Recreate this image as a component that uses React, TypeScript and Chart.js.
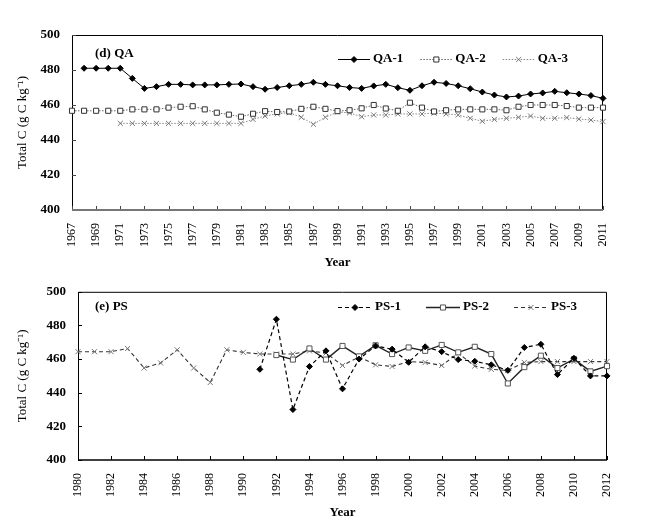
import React, { useEffect, useRef } from 'react';
import { Chart, registerables } from 'chart.js';

Chart.register(...registerables);

const FONT = "'Liberation Serif', 'Times New Roman', Times, serif";

// ---------- Panel (d) QA ----------
const QA_YEARS = [
  1967, 1968, 1969, 1970, 1971, 1972, 1973, 1974, 1975, 1976, 1977, 1978, 1979, 1980, 1981,
  1982, 1983, 1984, 1985, 1986, 1987, 1988, 1989, 1990, 1991, 1992, 1993, 1994, 1995, 1996,
  1997, 1998, 1999, 2000, 2001, 2002, 2003, 2004, 2005, 2006, 2007, 2008, 2009, 2010, 2011,
];
const QA1 = [
  null, 481, 481, 481, 481,
  475.2, 469.5, 470.5, 471.8, 471.8, 471.5, 471.5, 471.5, 471.8, 472,
  470.5, 469, 470, 471, 471.8, 473, 471.8, 471, 470, 469.5,
  470.9, 471.8, 469.9, 468.4, 471, 473, 472.3, 471, 469.3, 467.4,
  465.7, 464.6, 465.1, 466.3, 466.9, 467.8, 467, 466.3, 465.4, 463.8,
];
const QA2 = [
  456.7, 456.7, 456.7, 456.7, 456.7,
  457.5, 457.5, 457.5, 458.5, 459, 459.3, 457.5, 455.6, 454.5, 453.3,
  455, 456.5, 456, 456.3, 457.8, 459, 457.8, 456.5, 457, 458.1,
  460, 458, 456.7, 461.3, 458.5, 456.3, 457, 457.5, 457.5, 457.5,
  457.5, 457, 459, 460, 460, 460, 459.4, 458.5, 458.5, 458.5,
];
const QA3 = [
  null, null, null, null, 449.5,
  449.5, 449.5, 449.5, 449.5, 449.5, 449.5, 449.5, 449.5, 449.5, 449.5,
  451.8, 453.7, 455, 455.6, 453, 449, 453, 456, 455.5, 453.3,
  454.3, 454.3, 454.9, 454.9, 454.9, 455.4, 454.9, 454.3, 452.4, 450.7,
  451.8, 452.4, 453, 453.7, 452.4, 452.4, 452.8, 452, 451.4, 450.5,
];

// ---------- Panel (e) PS ----------
const PS_YEARS = [
  1980, 1981, 1982, 1983, 1984, 1985, 1986, 1987, 1988, 1989, 1990,
  1991, 1992, 1993, 1994, 1995, 1996, 1997, 1998, 1999, 2000, 2001,
  2002, 2003, 2004, 2005, 2006, 2007, 2008, 2009, 2010, 2011, 2012,
];
const PS1 = [
  null, null, null, null, null, null, null, null, null, null, null,
  453.9, 483.7, 430, 455.6, 464.9, 442.3, 460, 467.8, 465.9, 458.1, 467.3,
  464.4, 459.7, 458.7, 456.6, 453.3, 466.9, 468.8, 450.8, 460.5, 450, 450,
];
const PS2 = [
  null, null, null, null, null, null, null, null, null, null, null,
  null, 462.4, 459.7, 466.3, 459.7, 467.8, 461.6, 468.2, 463, 466.9, 464.9,
  468.4, 464, 467.3, 463, 445.5, 455.2, 462, 454.7, 460, 452.7, 455.8,
];
const PS3 = [
  464.4, 464.4, 464.4, 466.3, 454.7, 457.7, 465.5, 454.7, 446.1, 465.5, 464,
  463, 463, 463, 464.9, 463.6, 456.2, 461.3, 456.6, 455.6, 458.5, 458,
  456.2, 463.5, 455.8, 453.9, 453.3, 458, 458.5, 458.5, 458.5, 458.5, 458.5,
];

const Y_MIN = 400;
const Y_MAX = 500;
const Y_STEP = 20;
const Y_TITLE = 'Total C (g C kg⁻¹)';
const X_TITLE = 'Year';

function drawMarker(ctx: CanvasRenderingContext2D, style: string, x: number, y: number, r: number, fill: string, stroke: string, lw: number) {
  ctx.save();
  ctx.setLineDash([]);
  ctx.lineWidth = lw;
  ctx.strokeStyle = stroke;
  ctx.fillStyle = fill;
  ctx.beginPath();
  if (style === 'rectRot') {
    ctx.moveTo(x, y - r); ctx.lineTo(x + r, y); ctx.lineTo(x, y + r); ctx.lineTo(x - r, y); ctx.closePath();
    ctx.fill(); ctx.stroke();
  } else if (style === 'rect') {
    const s = r * Math.SQRT1_2;
    ctx.rect(x - s, y - s, 2 * s, 2 * s);
    ctx.fill(); ctx.stroke();
  } else if (style === 'crossRot') {
    const s = r * Math.SQRT1_2;
    ctx.moveTo(x - s, y - s); ctx.lineTo(x + s, y + s);
    ctx.moveTo(x + s, y - s); ctx.lineTo(x - s, y + s);
    ctx.stroke();
  }
  ctx.restore();
}

const framePlugin = {
  id: 'frame',
  beforeDatasetsDraw(chart: any, _args: any, o: any) {
    const { ctx, chartArea: a, scales } = chart;
    ctx.save();
    ctx.strokeStyle = '#000';
    ctx.lineWidth = 1;
    ctx.beginPath();
    ctx.moveTo(a.left + 0.5, a.bottom);
    ctx.lineTo(a.left + 0.5, a.top + 0.5);
    ctx.lineTo(a.right - 0.5, a.top + 0.5);
    ctx.lineTo(a.right - 0.5, a.bottom);
    ctx.stroke();
    ctx.lineWidth = 1;
    ctx.strokeStyle = o.tickColor;
    ctx.beginPath();
    scales.x.ticks.forEach((t: any) => {
      const px = Math.round(scales.x.getPixelForValue(t.value)) + 0.5;
      ctx.moveTo(px, a.bottom);
      ctx.lineTo(px, a.bottom - o.tickLen);
    });
    scales.y.ticks.forEach((t: any) => {
      const py = Math.round(scales.y.getPixelForValue(t.value)) + 0.5;
      ctx.moveTo(a.left, py);
      ctx.lineTo(a.left + o.tickLen, py);
    });
    ctx.stroke();
    ctx.strokeStyle = o.axisColor;
    ctx.lineWidth = o.axisWidth;
    ctx.beginPath();
    ctx.moveTo(a.left, a.bottom);
    ctx.lineTo(a.right, a.bottom);
    ctx.stroke();
    ctx.restore();
  },
};

const insidePlugin = {
  id: 'inside',
  afterDatasetsDraw(chart: any, _args: any, o: any) {
    const ctx: CanvasRenderingContext2D = chart.ctx;
    ctx.save();
    ctx.fillStyle = '#000';
    ctx.textBaseline = 'middle';
    ctx.textAlign = 'left';
    ctx.font = `bold 13px ${FONT}`;
    ctx.fillText(o.title, o.titleX, o.titleY);
    let x = o.legendX;
    chart.data.datasets.forEach((ds: any) => {
      ctx.save();
      ctx.strokeStyle = ds.borderColor;
      ctx.lineWidth = ds.borderWidth;
      ctx.setLineDash(ds.borderDash || []);
      ctx.beginPath();
      ctx.moveTo(x, o.legendY + 0.5);
      ctx.lineTo(x + o.lineLen, o.legendY + 0.5);
      ctx.stroke();
      ctx.restore();
      drawMarker(ctx, ds.pointStyle, x + o.lineLen / 2, o.legendY + 0.5, ds.pointRadius, ds.pointBackgroundColor, ds.pointBorderColor, ds.pointBorderWidth);
      const tx = x + o.lineLen + o.gap;
      ctx.fillStyle = '#000';
      ctx.fillText(ds.label, tx, o.legendY);
      x = tx + ctx.measureText(ds.label).width + o.itemGap;
    });
    ctx.restore();
  },
};

function pts(xs: number[], ys: (number | null)[]) {
  return xs.map((x, i) => ({ x, y: ys[i] }));
}

function buildConfig(p: any): any {
  return {
    type: 'line',
    data: { datasets: p.datasets },
    plugins: [framePlugin, insidePlugin],
    options: {
      responsive: false,
      animation: false,
      devicePixelRatio: 1,
      layout: { padding: p.padding },
      elements: { line: { tension: 0 } },
      plugins: {
        legend: { display: false },
        tooltip: { enabled: false },
        frame: p.frame,
        inside: p.inside,
      },
      scales: {
        x: {
          type: 'linear',
          min: p.xMin,
          max: p.xMax,
          afterFit: (s: any) => { s.height = 60; },
          grid: { display: false, drawTicks: false },
          border: { display: false },
          ticks: {
            stepSize: 2,
            autoSkip: false,
            minRotation: 90,
            maxRotation: 90,
            padding: 13,
            color: '#000',
            font: { family: FONT, size: 12 },
            callback: (v: any) => String(v),
          },
          title: {
            display: true,
            text: X_TITLE,
            color: '#000',
            font: { family: FONT, size: 13, weight: 'bold' },
            padding: 0,
          },
        },
        y: {
          min: Y_MIN,
          max: Y_MAX,
          afterFit: (s: any) => { s.width = p.yWidth; },
          grid: { display: false, drawTicks: false },
          border: { display: false },
          ticks: {
            stepSize: Y_STEP,
            padding: 12,
            color: '#000',
            font: { family: FONT, size: 13, weight: 'bold' },
          },
          title: {
            display: true,
            text: Y_TITLE,
            color: '#000',
            font: { family: FONT, size: 13 },
            padding: { top: 15, bottom: 0 },
          },
        },
      },
    },
  };
}

function series(label: string, xs: number[], ys: (number | null)[], s: any) {
  return {
    label,
    data: pts(xs, ys),
    clip: false,
    spanGaps: false,
    fill: false,
    pointHoverRadius: s.pointRadius,
    ...s,
  };
}

function qaConfig() {
  return buildConfig({
    xMin: 1967,
    xMax: 2011,
    yWidth: 72,
    padding: { left: 0, top: 35, right: 43, bottom: 2 },
    frame: { tickLen: 4, tickColor: '#444', axisColor: '#777', axisWidth: 2 },
    inside: { title: '(d) QA', titleX: 95, titleY: 54, legendX: 338, legendY: 59, lineLen: 32, gap: 3, itemGap: 17 },
    datasets: [
      series('QA-1', QA_YEARS, QA1, {
        borderColor: '#000', borderWidth: 1, borderDash: [],
        pointStyle: 'rectRot', pointRadius: 3, pointBackgroundColor: '#000', pointBorderColor: '#000', pointBorderWidth: 1,
      }),
      series('QA-2', QA_YEARS, QA2, {
        borderColor: '#666', borderWidth: 1, borderDash: [1.5, 1.5],
        pointStyle: 'rect', pointRadius: 3.6, pointBackgroundColor: '#fff', pointBorderColor: '#333', pointBorderWidth: 1,
      }),
      series('QA-3', QA_YEARS, QA3, {
        borderColor: '#888', borderWidth: 1, borderDash: [1.5, 1.5],
        pointStyle: 'crossRot', pointRadius: 3.6, pointBackgroundColor: '#fff', pointBorderColor: '#777', pointBorderWidth: 1,
      }),
    ],
  });
}

function psConfig() {
  return buildConfig({
    xMin: 1980,
    xMax: 2012,
    yWidth: 78,
    padding: { left: 0, top: 16, right: 39, bottom: 7 },
    frame: { tickLen: 4, tickColor: '#000', axisColor: '#000', axisWidth: 1.5 },
    inside: { title: '(e) PS', titleX: 95, titleY: 35, legendX: 338, legendY: 35, lineLen: 34, gap: 3, itemGap: 25 },
    datasets: [
      series('PS-1', PS_YEARS, PS1, {
        borderColor: '#000', borderWidth: 1.2, borderDash: [4, 3],
        pointStyle: 'rectRot', pointRadius: 3, pointBackgroundColor: '#000', pointBorderColor: '#000', pointBorderWidth: 1,
      }),
      series('PS-2', PS_YEARS, PS2, {
        borderColor: '#222', borderWidth: 1.4, borderDash: [],
        pointStyle: 'rect', pointRadius: 3.6, pointBackgroundColor: '#fff', pointBorderColor: '#555', pointBorderWidth: 1,
      }),
      series('PS-3', PS_YEARS, PS3, {
        borderColor: '#333', borderWidth: 1.1, borderDash: [4, 3],
        pointStyle: 'crossRot', pointRadius: 3.6, pointBackgroundColor: '#fff', pointBorderColor: '#777', pointBorderWidth: 1,
      }),
    ],
  });
}

function ChartCanvas({ make, width, height }: { make: () => any; width: number; height: number }) {
  const ref = useRef<HTMLCanvasElement>(null);
  useEffect(() => {
    if (!ref.current) return;
    const chart = new Chart(ref.current, make());
    return () => chart.destroy();
  }, [make]);
  return <canvas ref={ref} width={width} height={height} style={{ display: 'block', width, height }} />;
}

export default function App() {
  return (
    <div style={{ position: 'absolute', left: 0, top: 0, width: 646, height: 527, background: '#fff', overflow: 'hidden' }}>
      <ChartCanvas make={qaConfig} width={646} height={272} />
      <ChartCanvas make={psConfig} width={646} height={255} />
    </div>
  );
}
